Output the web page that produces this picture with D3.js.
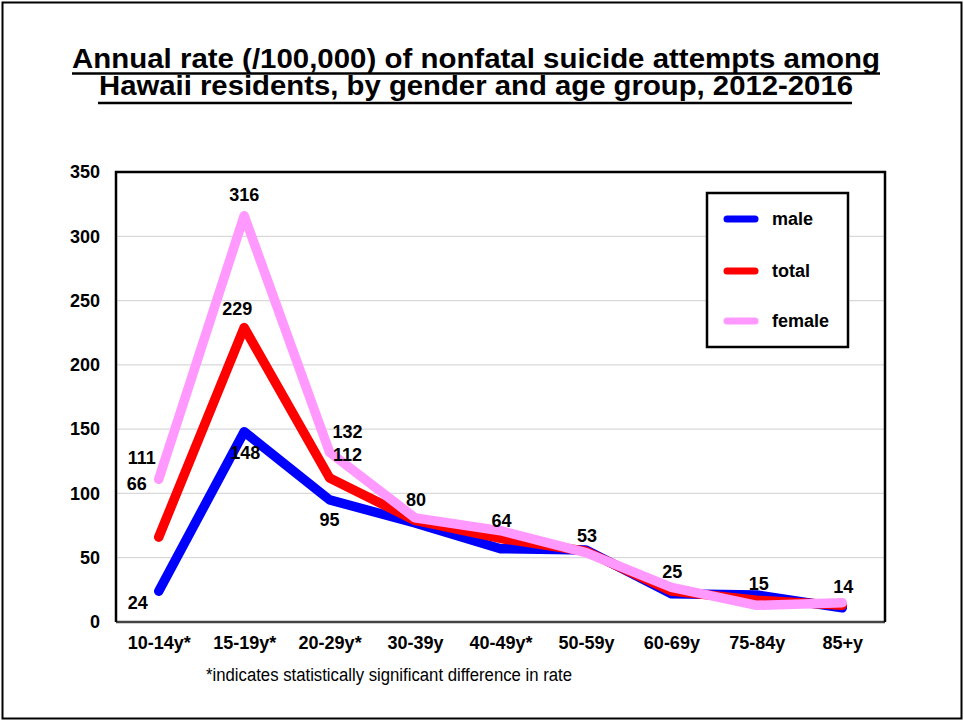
<!DOCTYPE html>
<html>
<head>
<meta charset="utf-8">
<script src="https://cdnjs.cloudflare.com/ajax/libs/d3/7.8.5/d3.min.js"></script>
<style>
  html, body { margin: 0; padding: 0; background: #fff; }
  svg { display: block; }
  text { font-family: Arial, "Liberation Sans", sans-serif; }
</style>
</head>
<body>
<svg id="chart" width="964" height="721"></svg>
<script>
// ---- data ----
const categories = ["10-14y*", "15-19y*", "20-29y*", "30-39y", "40-49y*", "50-59y", "60-69y", "75-84y", "85+y"];
const male   = [24, 148, 95, 77, 57, 56, 22, 21, 11];
const total  = [66, 229, 112, 79, 65, 55, 24, 17, 13];
const female = [111, 316, 132, 81, 71, 54, 27, 13, 15];
const yTicks = [0, 50, 100, 150, 200, 250, 300, 350];
const seriesNames = ["male", "total", "female"];
const seriesColors = ["#0000FF", "#FF0000", "#FF99FF"];
const titleLines = ["Annual rate (/100,000) of nonfatal suicide attempts among",
                    "Hawaii residents, by gender and age group, 2012-2016"];
const footnote = "*indicates statistically significant difference in rate";
// data labels: category, text, series it is attached to
const labelCats   = ["10-14y*","10-14y*","10-14y*","15-19y*","15-19y*","15-19y*","20-29y*","20-29y*","20-29y*","30-39y","40-49y*","50-59y","60-69y","75-84y","85+y"];
const labelTexts  = ["111","66","24","316","229","148","132","112","95","80","64","53","25","15","14"];
const labelSeries = ["female","total","male","female","total","male","female","total","male","total","total","total","total","total","total"];
// label offsets (layout, px)
const labelDx = [-17,-22,-21,0,-7,1,18,18,0,1,1,1,1,2,1];
const labelDy = [-22,-54,11,-21,-19,21,-21,-23,20,-21,-18,-16,-20,-17,-19];

const seriesData = { male: male, total: total, female: female };

// ---- layout ----
const svg = d3.select("#chart");
const plot = { left: 116, right: 885, top: 172, bottom: 622 };

// outer border
svg.append("rect").attr("x", 2.5).attr("y", 2.5).attr("width", 959).attr("height", 716)
  .attr("fill", "#fff").attr("stroke", "#000").attr("stroke-width", 2);

// title
const titleY = [68, 95];
const titleW = [808, 754];
titleLines.forEach((t, i) => {
  svg.append("text").attr("x", 476).attr("y", titleY[i]).attr("text-anchor", "middle")
    .attr("font-size", 27).attr("font-weight", "bold").attr("fill", "#000")
    .attr("textLength", titleW[i]).attr("lengthAdjust", "spacingAndGlyphs").text(t);
});
svg.append("line").attr("x1", 72).attr("x2", 880).attr("y1", 73.5).attr("y2", 73.5).attr("stroke", "#000").attr("stroke-width", 2.5);
svg.append("line").attr("x1", 98).attr("x2", 852).attr("y1", 103).attr("y2", 103).attr("stroke", "#000").attr("stroke-width", 2.5);

// scales
const x = d3.scalePoint().domain(categories).range([plot.left, plot.right]).padding(0.5);
const y = d3.scaleLinear().domain([0, 350]).range([plot.bottom, plot.top]);

// gridlines
svg.append("g").selectAll("line").data(yTicks.filter(v => v > 0 && v < 350)).join("line")
  .attr("x1", plot.left).attr("x2", plot.right)
  .attr("y1", d => y(d)).attr("y2", d => y(d))
  .attr("stroke", "#d9d9d9").attr("stroke-width", 1.2);

// y axis labels
const yAxis = d3.axisLeft(y).tickValues(yTicks).tickSize(0).tickPadding(16);
const gy = svg.append("g").attr("transform", `translate(${plot.left},0)`).call(yAxis);
gy.select(".domain").remove();
gy.selectAll("text").attr("font-size", 18).attr("font-weight", "bold").attr("fill", "#000")
  .attr("font-family", "Arial, 'Liberation Sans', sans-serif");

// x axis labels
const xAxis = d3.axisBottom(x).tickSize(0).tickPadding(14);
const gx = svg.append("g").attr("transform", `translate(0,${plot.bottom})`).call(xAxis);
gx.select(".domain").remove();
gx.selectAll("text").attr("font-size", 18).attr("font-weight", "bold").attr("fill", "#000")
  .attr("font-family", "Arial, 'Liberation Sans', sans-serif");

// plot frame
svg.append("line").attr("x1", plot.left).attr("x2", plot.right).attr("y1", plot.bottom).attr("y2", plot.bottom)
  .attr("stroke", "#444").attr("stroke-width", 2.5);
svg.append("path")
  .attr("d", `M${plot.left},${plot.bottom} L${plot.left},${plot.top} L${plot.right},${plot.top} L${plot.right},${plot.bottom}`)
  .attr("fill", "none").attr("stroke", "#000").attr("stroke-width", 2.5);

// lines
const lineGen = d3.line().x((d, i) => x(categories[i])).y(d => y(d));
seriesNames.forEach((name, k) => {
  svg.append("path").datum(seriesData[name])
    .attr("d", lineGen).attr("fill", "none")
    .attr("stroke", seriesColors[k]).attr("stroke-width", 9.5)
    .attr("stroke-linejoin", "round").attr("stroke-linecap", "round");
});

// data labels
labelTexts.forEach((t, i) => {
  const ci = categories.indexOf(labelCats[i]);
  const v = seriesData[labelSeries[i]][ci];
  svg.append("text")
    .attr("x", x(labelCats[i]) + labelDx[i])
    .attr("y", y(v) + labelDy[i])
    .attr("dy", "0.36em")
    .attr("text-anchor", "middle")
    .attr("font-size", 18).attr("font-weight", "bold").attr("fill", "#000")
    .text(t);
});

// legend
const lg = svg.append("g");
lg.append("rect").attr("x", 707).attr("y", 193).attr("width", 141).attr("height", 154)
  .attr("fill", "#fff").attr("stroke", "#000").attr("stroke-width", 2.5);
const legY = [219, 271, 321];
seriesNames.forEach((name, k) => {
  lg.append("line").attr("x1", 727).attr("x2", 755).attr("y1", legY[k]).attr("y2", legY[k])
    .attr("stroke", seriesColors[k]).attr("stroke-width", 7).attr("stroke-linecap", "round");
  lg.append("text").attr("x", 772).attr("y", legY[k]).attr("dy", "0.36em")
    .attr("font-size", 18).attr("font-weight", "bold").attr("fill", "#000").text(name);
});

// footnote
svg.append("text").attr("x", 206).attr("y", 681)
  .attr("font-size", 18).attr("fill", "#000")
  .attr("font-family", "'Open Sans', 'Noto Sans', sans-serif")
  .attr("textLength", 366).attr("lengthAdjust", "spacingAndGlyphs")
  .text(footnote);
</script>
</body>
</html>
